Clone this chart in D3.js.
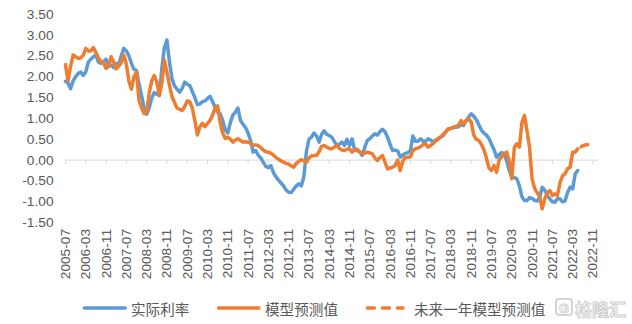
<!DOCTYPE html>
<html><head><meta charset="utf-8">
<script src="https://cdn.jsdelivr.net/npm/d3@7/dist/d3.min.js"></script>
<style>body{margin:0;background:#fff}svg{display:block}</style>
</head><body>
<svg id="c" width="632" height="324"></svg>
<script>
// ---- data (monthly, starting 2005-07) ----
const firstMonth = "2005-07";
const axisMonths = 211; // 2005-07 .. 2023-01 on the category axis

const realRate = [
 1.89,1.85,1.71,1.90,2.00,2.08,2.11,2.03,2.12,2.35,
 2.42,2.48,2.52,2.35,2.32,2.36,2.42,2.25,2.28,2.22,
 2.32,2.30,2.50,2.68,2.62,2.50,2.32,2.18,2.15,1.82,
 1.55,1.25,1.10,1.25,1.48,1.62,1.58,1.55,2.20,2.70,
 2.88,2.35,1.95,1.78,1.70,1.63,1.72,1.87,1.82,1.79,
 1.65,1.50,1.33,1.35,1.40,1.42,1.48,1.53,1.40,1.27,
 1.15,1.11,0.95,0.72,0.65,0.90,1.08,1.15,1.25,0.95,
 0.86,0.78,0.65,0.47,0.19,0.23,0.12,0.05,-0.05,-0.15,
 -0.18,-0.13,-0.30,-0.40,-0.48,-0.55,-0.62,-0.72,-0.77,-0.78,
 -0.70,-0.62,-0.57,-0.62,-0.40,0.20,0.50,0.55,0.65,0.58,
 0.43,0.62,0.70,0.62,0.59,0.55,0.45,0.35,0.38,0.43,
 0.35,0.50,0.35,0.51,0.25,0.22,0.20,0.11,0.30,0.47,
 0.51,0.58,0.63,0.60,0.68,0.74,0.68,0.55,0.38,0.23,
 0.24,0.22,0.07,0.12,0.16,0.18,0.22,0.58,0.45,0.45,
 0.51,0.45,0.45,0.51,0.48,0.43,0.48,0.51,0.55,0.59,
 0.68,0.75,0.76,0.78,0.79,0.80,0.85,0.83,0.95,1.03,
 1.11,1.05,0.97,0.85,0.72,0.65,0.60,0.52,0.38,0.25,
 0.07,0.13,0.18,0.15,-0.02,-0.25,-0.40,-0.42,-0.45,-0.62,
 -0.88,-0.97,-0.97,-0.90,-0.92,-0.97,-0.98,-0.90,-0.65,-0.72,
 -0.85,-0.93,-1.00,-1.01,-0.93,-0.93,-1.00,-0.98,-0.78,-0.65,
 -0.69,-0.33,-0.25
];

const modelPred = [
 2.29,1.90,2.25,2.52,2.48,2.44,2.45,2.52,2.68,2.62,
 2.62,2.70,2.58,2.45,2.35,2.33,2.20,2.25,2.48,2.35,
 2.19,2.25,2.35,2.52,2.30,1.90,1.70,2.00,2.12,1.43,
 1.25,1.12,1.15,1.60,1.90,2.03,1.88,1.55,1.85,2.40,
 2.10,1.80,1.52,1.38,1.25,1.22,1.19,1.28,1.42,1.40,
 1.25,0.95,0.60,0.80,0.88,0.80,0.88,0.95,1.08,1.25,
 1.30,0.90,0.65,0.52,0.55,0.50,0.43,0.48,0.51,0.47,
 0.43,0.44,0.43,0.40,0.36,0.36,0.35,0.30,0.24,0.20,
 0.19,0.16,0.12,0.06,0.02,-0.02,-0.05,-0.08,-0.10,-0.14,
 -0.17,-0.08,-0.03,0.01,-0.02,-0.05,0.05,0.10,0.11,0.11,
 0.20,0.33,0.35,0.31,0.28,0.27,0.31,0.35,0.28,0.24,
 0.23,0.26,0.27,0.19,0.24,0.26,0.20,0.15,0.17,0.19,
 0.17,0.15,0.05,-0.01,0.06,0.11,-0.05,-0.21,-0.19,-0.17,
 -0.13,0.00,-0.25,-0.03,0.06,0.07,0.08,0.23,0.27,0.29,
 0.32,0.37,0.39,0.31,0.35,0.40,0.46,0.52,0.56,0.62,
 0.68,0.75,0.76,0.79,0.81,0.84,0.95,0.87,0.95,0.99,
 0.91,0.60,0.50,0.47,0.38,0.25,0.05,-0.19,-0.25,-0.13,
 -0.29,0.00,0.08,0.15,0.19,-0.02,-0.45,0.30,0.39,0.31,
 0.90,1.07,0.70,0.30,-0.45,-0.68,-0.78,-0.88,-1.17,-0.93,
 -0.78,-0.73,-0.85,-0.81,-0.85,-0.55,-0.38,-0.33,-0.21,-0.17,
 0.19,0.19,0.27
];

const forecastStart = "2022-05";
const forecastNext = [0.27,0.31,0.34,0.36,0.37,0.38,0.39];

const yTicks = [3.5,3.0,2.5,2.0,1.5,1.0,0.5,0.0,-0.5,-1.0,-1.5];
const xTickLabels = ["2005-07","2006-03","2006-11","2007-07","2008-03","2008-11","2009-07",
 "2010-03","2010-11","2011-07","2012-03","2012-11","2013-07","2014-03","2014-11","2015-07",
 "2016-03","2016-11","2017-07","2018-03","2018-11","2019-07","2020-03","2020-11","2021-07",
 "2022-03","2022-11"];
const seriesNames = ["实际利率","模型预测值","未来一年模型预测值"];
const colors = ["#5B9BD5","#ED7D31","#ED7D31"];

// ---- categories ----
const fmt = d3.timeFormat("%Y-%m");
const start = d3.timeParse("%Y-%m")(firstMonth);
const categories = d3.range(axisMonths).map(i => fmt(d3.timeMonth.offset(start, i)));

const svg = d3.select("#c");
const x = d3.scalePoint().domain(categories).range([65.5, 598]);
const y = d3.scaleLinear().domain([-1.5, 3.5]).range([222.6, 14.2]);

const latin = "'Liberation Sans', Arial, sans-serif";
const cjk = "'Noto Sans CJK SC', 'Liberation Sans', sans-serif";
const txt = "#595959";

// y axis labels (no line)
svg.append("g").selectAll("text").data(yTicks).join("text")
  .attr("x", 53.5).attr("y", d => y(d))
  .attr("text-anchor", "end").attr("dominant-baseline", "central")
  .attr("font-family", latin).attr("font-size", "13.7px").attr("fill", txt)
  .text(d => d.toFixed(2));

// x axis line + ticks
const xa = svg.append("g");
xa.append("line").attr("x1", x(categories[0])).attr("x2", x(categories[categories.length-1]))
  .attr("y1", y(0)).attr("y2", y(0)).attr("stroke", "#d9d9d9").attr("stroke-width", 1);
xa.selectAll("line.t").data(xTickLabels).join("line").attr("class","t")
  .attr("x1", d => x(d)).attr("x2", d => x(d))
  .attr("y1", y(0)).attr("y2", y(0) + 4).attr("stroke", "#d9d9d9").attr("stroke-width", 1);
xa.selectAll("text").data(xTickLabels).join("text")
  .attr("transform", d => `translate(${x(d)},229) rotate(-90)`)
  .attr("text-anchor", "end").attr("dominant-baseline", "central")
  .attr("font-family", latin).attr("font-size", "13.7px").attr("fill", txt)
  .text(d => d);

// lines
const line = d3.line().defined(d => d.v != null).x(d => x(d.c)).y(d => y(d.v));
const realData = realRate.map((v, i) => ({c: categories[i], v}));
const modelData = modelPred.map((v, i) => ({c: categories[i], v}));
const fi = categories.indexOf(forecastStart);
const fcData = forecastNext.map((v, i) => ({c: categories[fi + i], v}));

svg.append("path").datum(realData).attr("d", line).attr("fill", "none")
  .attr("stroke", colors[0]).attr("stroke-width", 3.5).attr("stroke-linejoin", "round").attr("stroke-linecap", "round");
svg.append("path").datum(modelData).attr("d", line).attr("fill", "none")
  .attr("stroke", colors[1]).attr("stroke-width", 3.5).attr("stroke-linejoin", "round").attr("stroke-linecap", "round");
svg.append("path").datum(fcData).attr("d", line).attr("fill", "none")
  .attr("stroke", colors[2]).attr("stroke-width", 3.5).attr("stroke-linecap", "round")
  .attr("stroke-dasharray", "7,8").attr("stroke-dashoffset", -4);

// legend
const legY = 308;
const legItems = [
  {x1: 84.3, x2: 125.1, tx: 131, dash: null},
  {x1: 218.6, x2: 258.9, tx: 265, dash: null},
  {x1: 367.4, x2: 403, tx: 414, dash: "7,8"}
];
const lg = svg.append("g");
legItems.forEach((it, i) => {
  lg.append("line").attr("x1", it.x1).attr("x2", it.x2).attr("y1", legY).attr("y2", legY)
    .attr("stroke", colors[i]).attr("stroke-width", 3.5).attr("stroke-linecap", "round")
    .attr("stroke-dasharray", it.dash);
  lg.append("text").attr("x", it.tx).attr("y", legY).attr("dominant-baseline", "central")
    .attr("font-family", cjk).attr("font-size", "14.6px").attr("fill", txt)
    .text(seriesNames[i]);
});

// watermark
const wm = svg.append("g");
wm.append("rect").attr("x", 556).attr("y", 299).attr("width", 16).attr("height", 16).attr("rx", 3)
  .attr("fill", "none").attr("stroke", "#d4d4d4").attr("stroke-width", 2);
wm.append("text").attr("x", 564).attr("y", 308).attr("text-anchor", "middle").attr("dominant-baseline", "central")
  .attr("font-family", latin).attr("font-weight", "bold").attr("font-size", "13px")
  .attr("fill", "#fff").attr("stroke", "#d4d4d4").attr("stroke-width", 1).text("G");
wm.append("text").attr("x", 575).attr("y", 308).attr("dominant-baseline", "central")
  .attr("font-family", cjk).attr("font-weight", "bold").attr("font-size", "17px")
  .attr("fill", "#fff").attr("stroke", "#cfcfcf").attr("stroke-width", 1).text("格隆汇");
</script>
</body></html>
